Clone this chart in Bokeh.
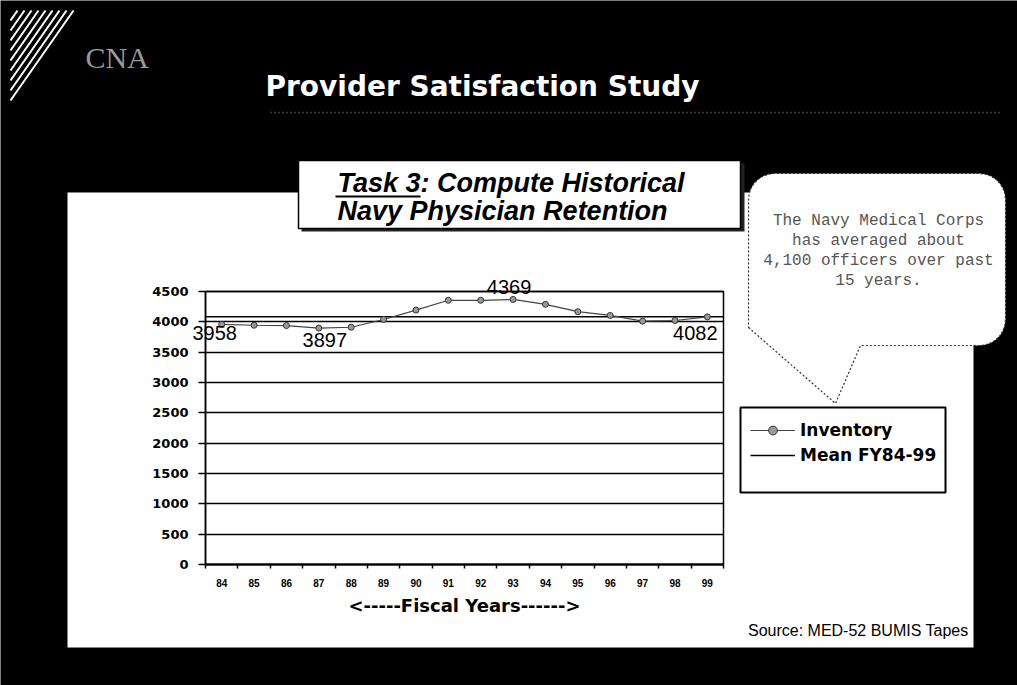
import numpy as np
from bokeh.plotting import figure
from bokeh.models import (ColumnDataSource, Range1d, FixedTicker, Label, LabelSet,
                          BoxAnnotation, PolyAnnotation, Legend, LegendItem,
                          LinearAxis, Grid)
from bokeh.core.properties import value
from bokeh.embed import file_html
from bokeh.resources import INLINE

# ---------------- data ----------------
years = [84, 85, 86, 87, 88, 89, 90, 91, 92, 93, 94, 95, 96, 97, 98, 99]
inventory = [3958, 3944, 3939, 3897, 3911, 4039, 4194, 4355, 4355, 4369,
             4289, 4167, 4105, 4011, 4022, 4082]
mean_fy84_99 = 4085
y_ticks = [0, 500, 1000, 1500, 2000, 2500, 3000, 3500, 4000, 4500]
labelled_years = [84, 87, 93, 99]
series_names = ["Inventory", "Mean FY84-99"]
callout_lines = ["The Navy Medical Corps", "has averaged about",
                 "4,100 officers over past", "15 years."]

# ---------------- geometry (page pixels of the reference) ----------------
W, H = 1017, 685
OFF = 0
FL, FR, FT, FB = 205, 723, 291, 564          # plot area on the page
x_lo, x_hi = years[0] - 0.5, years[-1] + 0.5
y_lo, y_hi = y_ticks[0], y_ticks[-1]


def X(px):
    return x_lo + (px - FL) * (x_hi - x_lo) / (FR - FL)


def Y(py):
    return y_lo + (FB - py) * (y_hi - y_lo) / (FB - FT)


# the frame covers the whole canvas; the chart's own scales are set so that
# the plot area lands where it is on the slide
p = figure(width=W, height=H, title=None,
           x_range=Range1d(X(OFF), X(OFF + W)), y_range=Range1d(Y(OFF + H), Y(OFF)),
           x_axis_type=None, y_axis_type=None,
           output_backend="svg", toolbar_location=None, min_border=0)
p.border_fill_color = "black"
p.background_fill_color = "black"
p.outline_line_color = None

# white slide panel
p.add_layout(BoxAnnotation(left=X(67), right=X(973), top=Y(192), bottom=Y(647),
                           fill_color="white", fill_alpha=1.0, line_alpha=0,
                           level="image"))

# horizontal grid limited to the plot area
grid = Grid(dimension=1, ticker=FixedTicker(ticks=y_ticks), grid_line_color="black",
            grid_line_width=1.5, bounds=(y_lo, y_hi))
if "cross_bounds" in Grid.properties():
    grid.cross_bounds = (x_lo, x_hi)
    p.add_layout(grid, "center")
else:
    p.segment(x0=[x_lo] * len(y_ticks), x1=[x_hi] * len(y_ticks), y0=y_ticks,
              y1=y_ticks, line_color="black", line_width=1.5, level="underlay")

# axes, drawn at fixed locations inside the frame
yaxis = LinearAxis(ticker=FixedTicker(ticks=y_ticks), fixed_location=x_lo,
                   bounds=(y_lo, y_hi))
yaxis.major_label_text_font = "DejaVu Sans"
yaxis.major_label_text_font_style = "bold"
yaxis.major_label_text_font_size = "13px"
yaxis.major_label_text_color = "black"
yaxis.major_tick_out = 7
yaxis.major_tick_in = 0
yaxis.minor_tick_out = 0
yaxis.major_tick_line_width = 1.5
yaxis.axis_line_width = 1.5
yaxis.axis_line_color = "black"
yaxis.major_label_standoff = 10
p.add_layout(yaxis, "left")

bounds = [y - 0.5 for y in years] + [years[-1] + 0.5]
xaxis = LinearAxis(ticker=FixedTicker(ticks=years, minor_ticks=bounds),
                   fixed_location=y_lo, bounds=(x_lo, x_hi))
xaxis.major_tick_out = 0
xaxis.major_tick_in = 0
xaxis.minor_tick_out = 4
xaxis.minor_tick_in = 0
xaxis.minor_tick_line_color = "black"
xaxis.minor_tick_line_width = 1.5
xaxis.axis_line_width = 2
xaxis.axis_line_color = "black"
xaxis.major_label_text_font = "Liberation Sans"
xaxis.major_label_text_font_style = "bold"
xaxis.major_label_text_font_size = "10px"
xaxis.major_label_text_color = "black"
xaxis.major_label_standoff = 10
xaxis.axis_label = "<-----Fiscal Years------>"
xaxis.axis_label_text_font = "DejaVu Sans"
xaxis.axis_label_text_font_style = "bold"
xaxis.axis_label_text_font_size = "18px"
xaxis.axis_label_text_color = "black"
xaxis.axis_label_standoff = 5
p.add_layout(xaxis, "below")

# series
src = ColumnDataSource(dict(year=years, inventory=inventory))
r_mean = p.line(x=[x_lo, x_hi], y=[mean_fy84_99, mean_fy84_99], line_color="black",
                line_width=1.5)
r_line = p.line("year", "inventory", source=src, line_color="#444", line_width=1.2)
r_pts = p.scatter("year", "inventory", source=src, marker="circle", size=6,
                  fill_color="#999", line_color="#333", line_width=1)

# plot-area border
p.add_layout(BoxAnnotation(left=x_lo, right=x_hi, bottom=y_lo, top=y_hi,
                           fill_alpha=0, line_color="black", line_alpha=1.0,
                           line_width=1.5))

# data labels
lab_vals = [inventory[years.index(y)] for y in labelled_years]
lab_src = ColumnDataSource(dict(year=labelled_years, val=lab_vals,
                                text=[str(v) for v in lab_vals],
                                dx=[-7, 6, -4, -12], dy=[-9, -12, 12, -16]))
p.add_layout(LabelSet(x="year", y="val", text="text", x_offset="dx", y_offset="dy",
                      source=lab_src, text_align="center", text_baseline="middle",
                      text_font=value("Liberation Sans"), text_font_size=value("20px"),
                      text_color="black"))

# legend box + legend
p.add_layout(BoxAnnotation(left=X(740), right=X(945), top=Y(407), bottom=Y(492),
                           fill_color="white", fill_alpha=1.0, line_color="black",
                           line_alpha=1.0, line_width=2))
legend = Legend(items=[LegendItem(label=series_names[0], renderers=[r_line, r_pts]),
                       LegendItem(label=series_names[1], renderers=[r_mean])],
                location=(750 - OFF, (OFF + H) - 466), orientation="vertical",
                glyph_width=45, glyph_height=22, label_height=22, spacing=3,
                padding=0, margin=0, label_standoff=5,
                border_line_alpha=0, background_fill_alpha=0,
                label_text_font="DejaVu Sans", label_text_font_style="bold",
                label_text_font_size="17px", label_text_color="black")
p.add_layout(legend, "center")

# ---------------- slide decoration ----------------
for s in range(0, 90, 10):
    p.add_layout(PolyAnnotation(xs=[X(10), X(10 + 63 * (90 - s) / 90)],
                                ys=[Y(100 - s), Y(10)], fill_alpha=0,
                                line_color="white", line_alpha=1.0, line_width=2))
p.add_layout(Label(x=X(85), y=Y(57), text="CNA", text_font="Liberation Serif",
                   text_baseline="middle",
                   text_font_size="30px", text_color="#999999"))
p.add_layout(Label(x=X(265), y=Y(86), text="Provider Satisfaction Study",
                   text_baseline="middle",
                   text_font="DejaVu Sans", text_font_style="bold",
                   text_font_size="28px", text_color="white"))
p.add_layout(PolyAnnotation(xs=[X(270), X(1000)], ys=[Y(112), Y(112)], fill_alpha=0,
                            line_color="#777777", line_alpha=1.0, line_dash="1 3",
                            line_width=1.5))

# task box
p.add_layout(BoxAnnotation(left=X(301), right=X(744), top=Y(163), bottom=Y(231),
                           fill_color="#222222", fill_alpha=1.0, line_alpha=0))
p.add_layout(BoxAnnotation(left=X(298), right=X(740), top=Y(160), bottom=Y(228),
                           fill_color="white", fill_alpha=1.0, line_color="black",
                           line_alpha=1.0, line_width=1.5))
p.add_layout(Label(x=X(337), y=Y(182), text="Task 3: Compute Historical",
                   text_baseline="middle",
                   text_font="Liberation Sans", text_font_style="bold italic",
                   text_font_size="27px", text_color="black"))
p.add_layout(Label(x=X(337), y=Y(210), text="Navy Physician Retention",
                   text_baseline="middle",
                   text_font="Liberation Sans", text_font_style="bold italic",
                   text_font_size="27px", text_color="black"))
p.add_layout(BoxAnnotation(left=X(335), right=X(420), top=Y(195), bottom=Y(197),
                           fill_color="black", fill_alpha=1.0, line_alpha=0))


# callout bubble
def arc(cx, cy, r, a0, a1, n=8):
    t = np.linspace(np.radians(a0), np.radians(a1), n)
    return list(cx + r * np.cos(t)), list(cy - r * np.sin(t))


L_, R_, T_, B_, rad = 748, 1005, 173, 345, 26
bx, by = [L_, 835, 860], [327, 403, B_]
for cx, cy, a0, a1 in [(R_ - rad, B_ - rad, 270, 360), (R_ - rad, T_ + rad, 0, 90),
                       (L_ + rad, T_ + rad, 90, 180)]:
    ax_, ay_ = arc(cx, cy, rad, a0, a1)
    bx += ax_
    by += ay_
p.add_layout(PolyAnnotation(xs=[X(v) for v in bx], ys=[Y(v) for v in by],
                            fill_color="white", fill_alpha=1.0, line_color="#333333",
                            line_alpha=1.0, line_dash="2 2", line_width=1.2))
for i, t in enumerate(callout_lines):
    p.add_layout(Label(x=X(878), y=Y(220 + 20 * i), text=t, text_align="center",
                       text_baseline="middle", text_font="Liberation Mono",
                       text_font_size="16px", text_color="#555555"))

p.add_layout(Label(x=X(968), y=Y(630), text="Source: MED-52 BUMIS Tapes",
                   text_align="right", text_baseline="middle",
                   text_font="Liberation Sans",
                   text_font_size="16px", text_color="black"))

open("out.html", "w").write(file_html(p, INLINE))
